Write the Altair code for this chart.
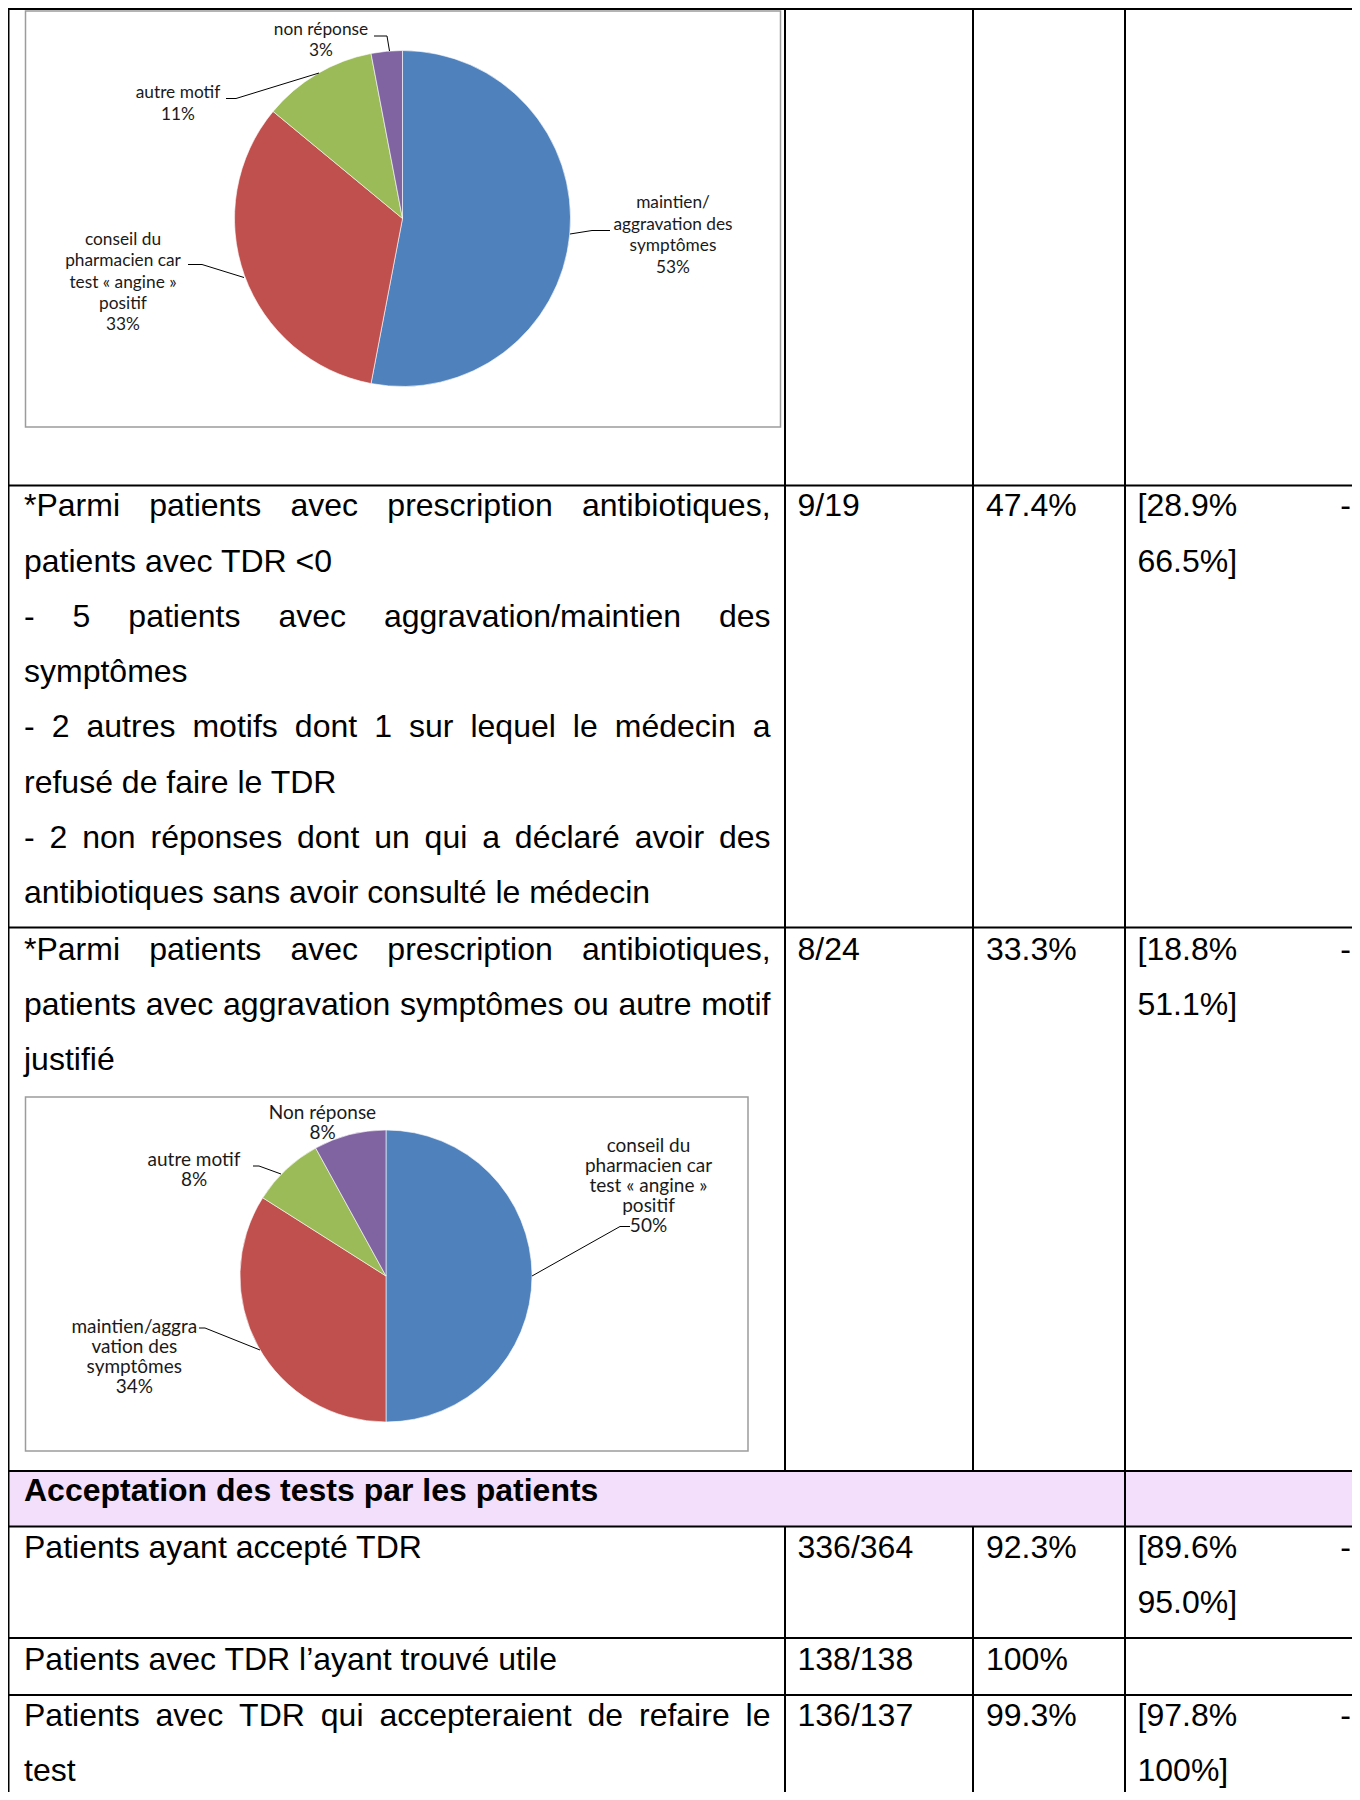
import altair as alt
import pandas as pd

# ------------------------------------------------------------------ data
pie1_categories = ["maintien/aggravation des symptômes",
                   "conseil du pharmacien car test « angine » positif",
                   "autre motif", "non réponse"]
pie1_values = [53, 33, 11, 3]
pie1_label_lines = [["maintien/", "aggravation des", "symptômes"],
                    ["conseil du", "pharmacien car", "test « angine »", "positif"],
                    ["autre motif"], ["non réponse"]]

pie2_categories = ["conseil du pharmacien car test « angine » positif",
                   "maintien/aggravation des symptômes",
                   "autre motif", "Non réponse"]
pie2_values = [50, 34, 8, 8]
pie2_label_lines = [["conseil du", "pharmacien car", "test « angine »", "positif"],
                    ["maintien/aggra", "vation des", "symptômes"],
                    ["autre motif"], ["Non réponse"]]

row2_lines = ["*Parmi patients avec prescription antibiotiques,",
              "patients avec TDR <0",
              "- 5 patients avec aggravation/maintien des",
              "symptômes",
              "- 2 autres motifs dont 1 sur lequel le médecin a",
              "refusé de faire le TDR",
              "- 2 non réponses dont un qui a déclaré avoir des",
              "antibiotiques sans avoir consulté le médecin"]
row3_lines = ["*Parmi patients avec prescription antibiotiques,",
              "patients avec aggravation symptômes ou autre motif",
              "justifié"]
header_text = "Acceptation des tests par les patients"
row5_lines = ["Patients ayant accepté TDR"]
row6_lines = ["Patients avec TDR l’ayant trouvé utile"]
row7_lines = ["Patients avec TDR qui accepteraient de refaire le", "test"]

counts = ["9/19", "8/24", "336/364", "138/138", "136/137"]
percents = ["47.4%", "33.3%", "92.3%", "100%", "99.3%"]
ci_low = ["[28.9%", "[18.8%", "[89.6%", "", "[97.8%"]
ci_high = ["66.5%]", "51.1%]", "95.0%]", "", "100%]"]

# ------------------------------------------------------------------ layout
W, H = 1344, 1784
X0, Y0 = 8, 8
FS = 32
LH = 55.25
COL_L = [24, 797.5, 986, 1137.5]
COL1_R = 770.5
DASH_R = 1351
SLICE_COLORS = ["#4F81BD", "#C0504D", "#9BBB59", "#8064A2"]

# Arial / Liberation Sans advance widths (1/1000 em)
ADV = {}
for c in "abdeghnopqu0123456789éèêôûà«»":
    ADV[c] = 556
for c in "cksvxyzç":
    ADV[c] = 500
ADV.update({"f": 278, "i": 222, "j": 222, "l": 222, "r": 333, "t": 278,
            "m": 833, "w": 722, " ": 278, ",": 278, ".": 278, "/": 278,
            "*": 389, "-": 333, "<": 584, "%": 889, "[": 278, "]": 278,
            "’": 222, "î": 278, "P": 667, "T": 611, "D": 722, "R": 722,
            "A": 667, "N": 722})


def tw(s):
    return sum(ADV.get(c, 556) for c in s) * FS / 1000.0


reg_rows, bold_rows, right_rows = [], [], []


def put_line(text, y, left, right=None, justify=False):
    words = text.split()
    if justify and len(words) > 1:
        gap = (right - left - sum(tw(w) for w in words)) / (len(words) - 1)
        x = left
        for w in words:
            reg_rows.append({"x": x, "y": y, "t": w})
            x += tw(w) + gap
    else:
        reg_rows.append({"x": left, "y": y, "t": text})


def put_par(lines, y0, just_flags):
    for i, (ln, j) in enumerate(zip(lines, just_flags)):
        put_line(ln, y0 + i * LH, COL_L[0], COL1_R, j)


row_base = [516.3, 959.5, 1557.5, 1670, 1726]
put_par(row2_lines, row_base[0], [True, False, True, False, True, False, True, False])
put_par(row3_lines, row_base[1], [True, True, False])
put_par(row5_lines, row_base[2], [False])
put_par(row6_lines, row_base[3], [False])
put_par(row7_lines, row_base[4], [True, False])
bold_rows.append({"x": COL_L[0], "y": 1501, "t": header_text})

for i, yb in enumerate(row_base):
    reg_rows.append({"x": COL_L[1], "y": yb, "t": counts[i]})
    reg_rows.append({"x": COL_L[2], "y": yb, "t": percents[i]})
    if ci_low[i]:
        reg_rows.append({"x": COL_L[3], "y": yb, "t": ci_low[i]})
        reg_rows.append({"x": COL_L[3], "y": yb + LH, "t": ci_high[i]})
        right_rows.append({"x": DASH_R, "y": yb, "t": "-"})

# table grid
hlines = [9, 485.5, 927.5, 1471, 1526.5, 1638, 1695]
grid = [{"x": 8, "x2": 1360, "y": y, "y2": y} for y in hlines]
grid += [{"x": 8.5, "x2": 8.5, "y": 9, "y2": 1800},
         {"x": 1125, "x2": 1125, "y": 9, "y2": 1800}]
for xv in (785, 973):
    grid += [{"x": xv, "x2": xv, "y": 9, "y2": 1471},
             {"x": xv, "x2": xv, "y": 1526.5, "y2": 1800}]

header_band = [{"x": 9, "x2": 1360, "y": 1471, "y2": 1526.5}]
frames = [{"x": 25.5, "x2": 780.5, "y": 11, "y2": 427},
          {"x": 25.5, "x2": 748, "y": 1097, "y2": 1451}]

PIE1 = dict(cx=402.5, cy=218.5, r=168, fs=17.3)
PIE2 = dict(cx=386, cy=1276, r=146, fs=19)
pie1_label_pos = [(673, 203, 21.5), (123, 240, 21.3), (178, 93, 21.5), (321, 29.5, 21.5)]
pie2_label_pos = [(648.5, 1145.7, 20.1), (134.3, 1327, 19.9), (194, 1160, 20), (322.5, 1113, 20.2)]

leaders = [
    [(570, 234), (592, 230.5), (610, 230.5)],
    [(188, 264.5), (202, 264.5), (244, 277.5)],
    [(226, 98.5), (236, 98.5), (319, 73)],
    [(374, 36), (387, 36), (389.5, 51)],
    [(630, 1226.5), (620, 1226.5), (532, 1276)],
    [(199, 1328), (205, 1328), (260, 1350)],
    [(253, 1166), (259, 1166), (281, 1174)],
]
leader_rows = [{"id": i, "k": k, "x": p[0], "y": p[1]}
               for i, pts in enumerate(leaders) for k, p in enumerate(pts)]


def label_rows(lines_list, values, pos):
    rows = []
    for lines, v, (lx, ly, step) in zip(lines_list, values, pos):
        for j, t in enumerate(lines + [f"{v}%"]):
            rows.append({"x": lx, "y": ly + j * step, "t": t})
    return rows


# ------------------------------------------------------------------ chart
xs = alt.Scale(domain=[X0, X0 + W], nice=False, zero=False)
ys = alt.Scale(domain=[Y0, Y0 + H], nice=False, zero=False, reverse=True)


def XY():
    return dict(x=alt.X("x:Q", scale=xs, axis=None), y=alt.Y("y:Q", scale=ys, axis=None))


def XY2():
    d = XY()
    d.update(x2=alt.X2("x2:Q"), y2=alt.Y2("y2:Q"))
    return d


band = alt.Chart(pd.DataFrame(header_band)).mark_rect(color="#F3DEFB").encode(**XY2())
frame = alt.Chart(pd.DataFrame(frames)).mark_rect(
    fill="white", stroke="#9c9c9c", strokeWidth=1.5).encode(**XY2())


def pie(cats, vals, P):
    df = pd.DataFrame({"category": cats, "value": vals,
                       "rank": list(range(1, len(vals) + 1))})
    return alt.Chart(df).mark_arc(radius=P["r"], stroke="white", strokeWidth=0.6).encode(
        theta=alt.Theta("value:Q", stack=True),
        color=alt.Color("rank:O", scale=alt.Scale(domain=[1, 2, 3, 4], range=SLICE_COLORS),
                        legend=None),
        order=alt.Order("rank:Q"),
        x=alt.value(P["cx"] - X0),
        y=alt.value(P["cy"] - Y0),
        tooltip=["category:N", "value:Q"],
    )


pie1 = pie(pie1_categories, pie1_values, PIE1)
pie2 = pie(pie2_categories, pie2_values, PIE2)

rules = alt.Chart(pd.DataFrame(grid)).mark_rule(color="black", strokeWidth=2).encode(**XY2())

lead = alt.Chart(pd.DataFrame(leader_rows)).mark_line(color="black", strokeWidth=1).encode(
    detail="id:N", order="k:Q", **XY())

lab1 = alt.Chart(pd.DataFrame(label_rows(pie1_label_lines, pie1_values, pie1_label_pos))).mark_text(
    align="center", baseline="middle", font="Lato", fontSize=PIE1["fs"], color="#1a1a1a"
).encode(text="t:N", **XY())
lab2 = alt.Chart(pd.DataFrame(label_rows(pie2_label_lines, pie2_values, pie2_label_pos))).mark_text(
    align="center", baseline="middle", font="Lato", fontSize=PIE2["fs"], color="#1a1a1a"
).encode(text="t:N", **XY())

txt_reg = alt.Chart(pd.DataFrame(reg_rows)).mark_text(
    align="left", baseline="alphabetic", font="Liberation Sans", fontSize=FS, color="black"
).encode(text="t:N", **XY())
txt_bold = alt.Chart(pd.DataFrame(bold_rows)).mark_text(
    align="left", baseline="alphabetic", font="Liberation Sans", fontSize=FS,
    fontWeight="bold", color="black"
).encode(text="t:N", **XY())
txt_right = alt.Chart(pd.DataFrame(right_rows)).mark_text(
    align="right", baseline="alphabetic", font="Liberation Sans", fontSize=FS, color="black"
).encode(text="t:N", **XY())

chart = alt.layer(band, frame, pie1, pie2, rules, lead, lab1, lab2,
                  txt_reg, txt_bold, txt_right).properties(
    width=W, height=H, padding=0, background="white",
    autosize=alt.AutoSizeParams(type="none"),
).configure_view(strokeWidth=0)

chart.save("out.html", embed_options={"renderer": "svg", "actions": False})
